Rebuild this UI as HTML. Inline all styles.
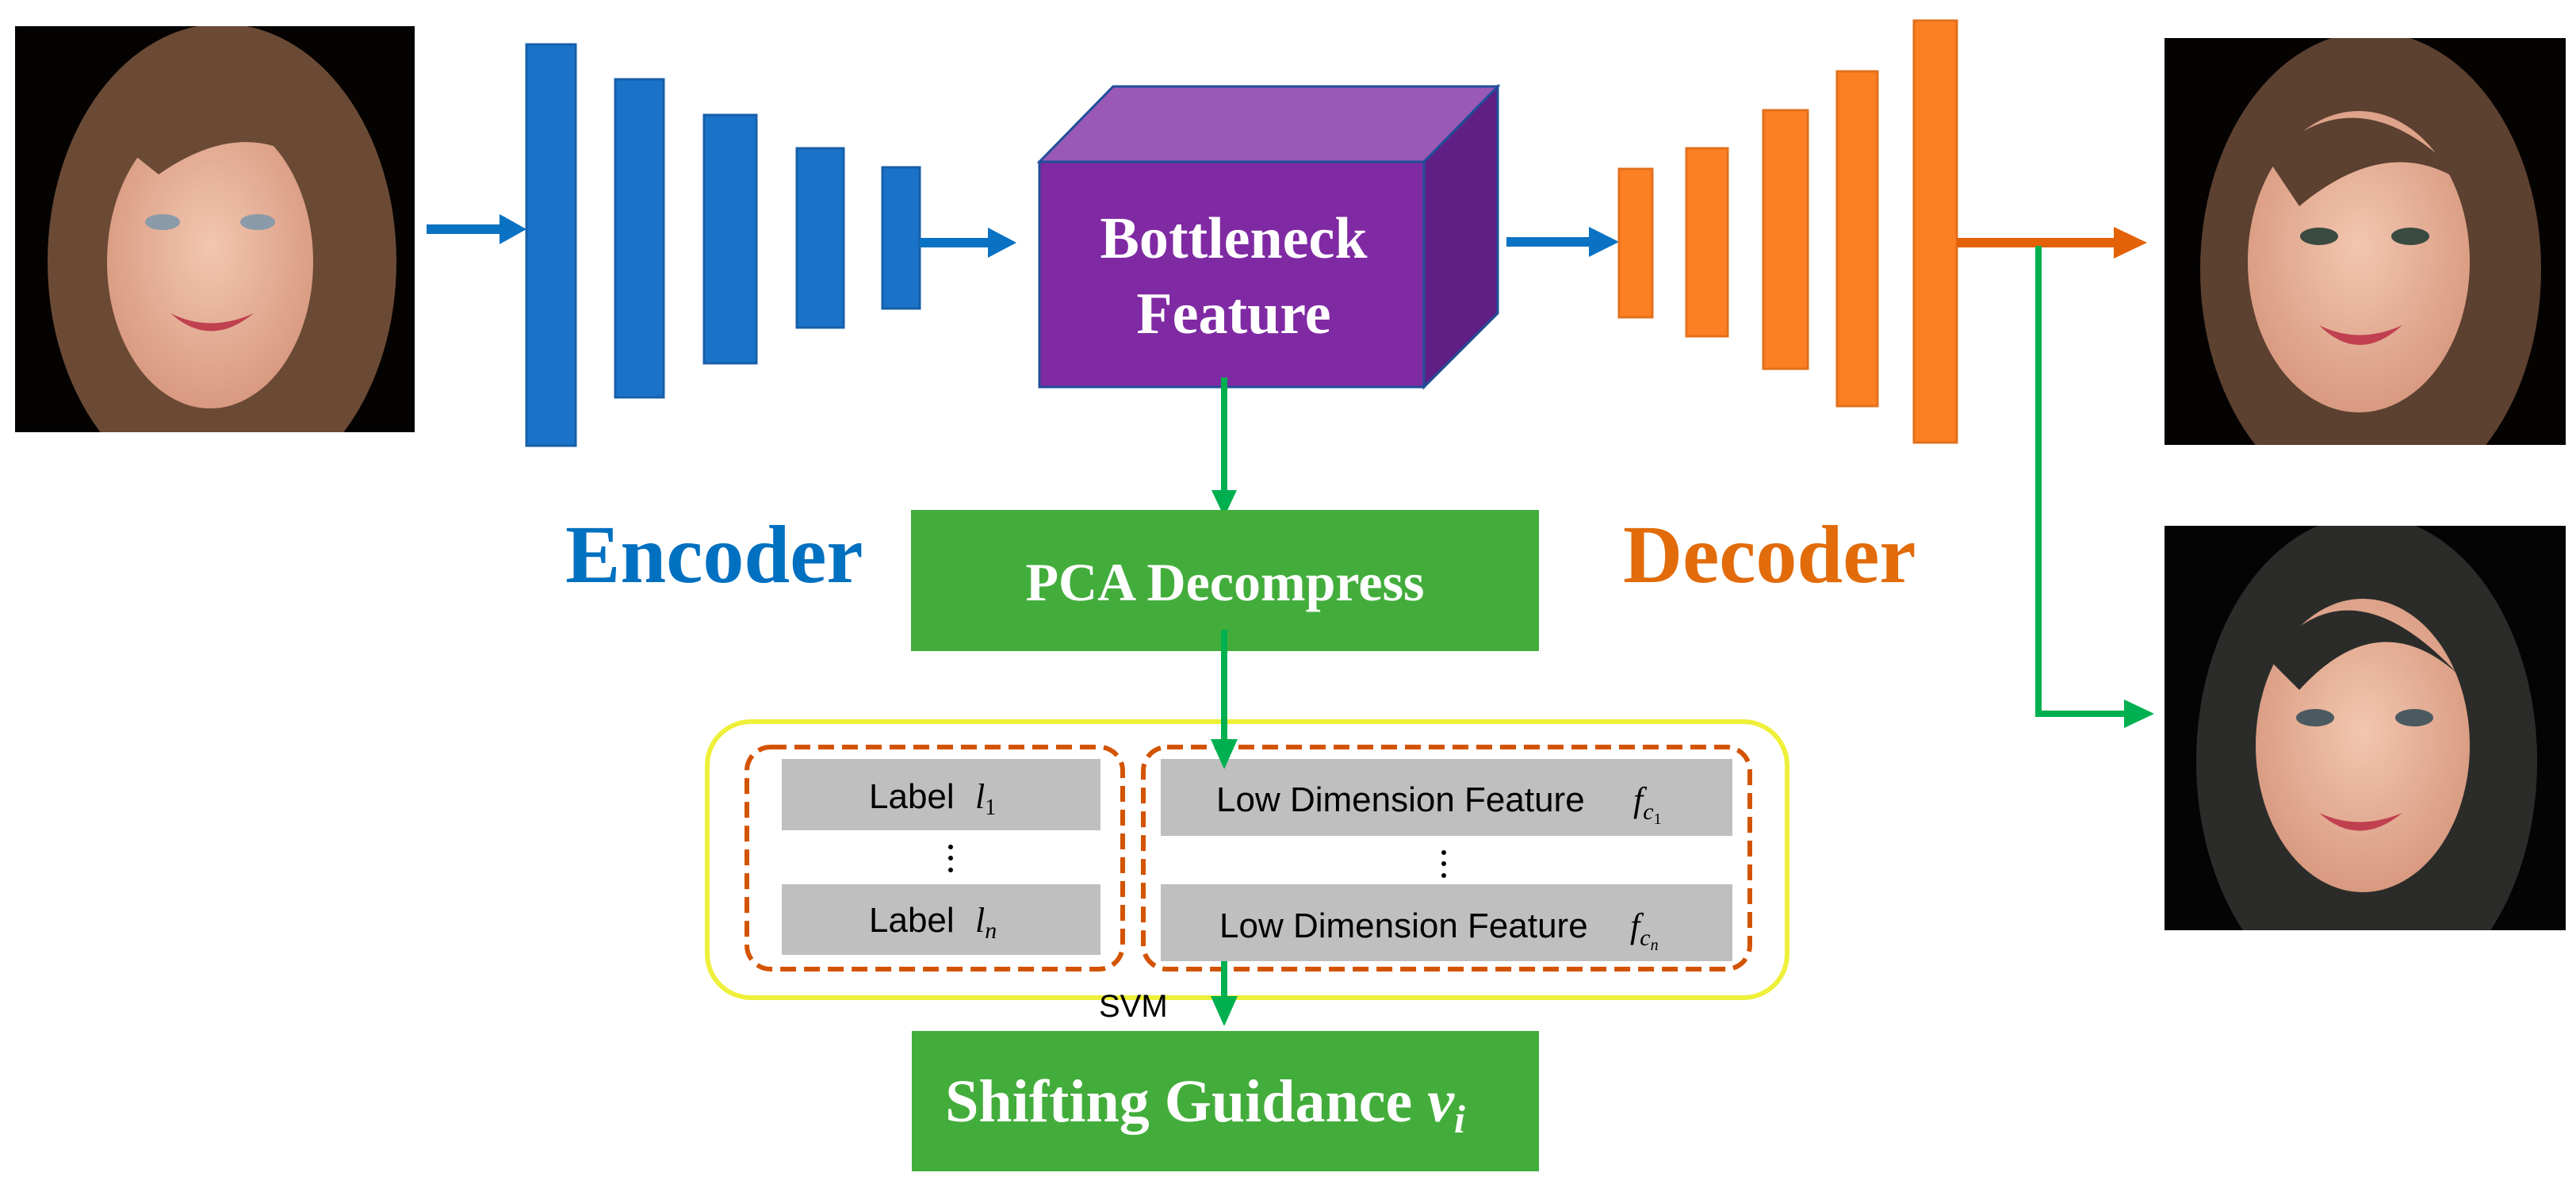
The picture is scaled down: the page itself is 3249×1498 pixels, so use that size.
<!DOCTYPE html>
<html><head><meta charset="utf-8"><style>
html,body{margin:0;padding:0;background:#fff;}
svg{display:block;}
</style></head><body>
<svg width="3249" height="1498" viewBox="0 0 3249 1498" xmlns="http://www.w3.org/2000/svg">
<defs>
<radialGradient id="skin" cx="50%" cy="45%" r="55%"><stop offset="0" stop-color="#f3c6b0"/><stop offset="1" stop-color="#d89a80"/></radialGradient>
<clipPath id="c1"><rect x="19" y="33" width="504" height="512"/></clipPath>
<clipPath id="c2"><rect x="2730" y="48" width="506" height="513"/></clipPath>
<clipPath id="c3"><rect x="2730" y="663" width="506" height="510"/></clipPath>
</defs>
<rect width="3249" height="1498" fill="#fff"/>

<!-- Photo 1 -->
<g clip-path="url(#c1)">
<rect x="19" y="33" width="504" height="512" fill="#050302"/>
<ellipse cx="280" cy="330" rx="220" ry="300" fill="#6b4a35"/>
<ellipse cx="265" cy="330" rx="130" ry="185" fill="url(#skin)"/>
<path d="M150 180 Q260 90 380 200 Q300 150 200 220 Z" fill="#6b4a35"/>
<ellipse cx="205" cy="280" rx="22" ry="10" fill="#8a9aa8"/>
<ellipse cx="325" cy="280" rx="22" ry="10" fill="#8a9aa8"/>
<path d="M215 395 Q265 440 320 395 Q265 420 215 395 Z" fill="#c04050"/>
</g>

<!-- Encoder bars -->
<g fill="#1a73c8" stroke="#175fa8" stroke-width="3">
<rect x="664" y="56" width="62" height="506"/>
<rect x="776" y="100" width="61" height="401"/>
<rect x="888" y="145" width="66" height="313"/>
<rect x="1005" y="187" width="59" height="226"/>
<rect x="1113" y="211" width="47" height="178"/>
</g>

<!-- blue arrows -->
<g fill="#0a72c2">
<rect x="538" y="283" width="100" height="12"/>
<polygon points="630,270 664,289 630,308"/>
<rect x="1160" y="300" width="92" height="12"/>
<polygon points="1246,287 1282,306 1246,325"/>
<rect x="1900" y="299" width="110" height="12"/>
<polygon points="2004,286 2042,305 2004,324"/>
</g>

<!-- Cube -->
<g stroke="#1f4e99" stroke-width="3">
<polygon points="1311,204 1404,109 1889,109 1796,204" fill="#9b59b6"/>
<polygon points="1796,204 1889,109 1889,395 1796,488" fill="#5f1f84"/>
<rect x="1311" y="204" width="485" height="284" fill="#7f2aa3"/>
</g>
<g font-family="'Liberation Serif',serif" font-weight="bold" font-size="74" fill="#fff" text-anchor="middle">
<text x="1556" y="325">Bottleneck</text>
<text x="1556" y="420">Feature</text>
</g>

<!-- Decoder bars -->
<g fill="#fd7f23" stroke="#e2701c" stroke-width="3">
<rect x="2042" y="213" width="42" height="187"/>
<rect x="2127" y="187" width="52" height="237"/>
<rect x="2224" y="139" width="56" height="326"/>
<rect x="2317" y="90" width="51" height="422"/>
<rect x="2414" y="26" width="54" height="532"/>
</g>

<!-- Orange arrow -->
<g fill="#e36207">
<rect x="2468" y="300" width="205" height="12"/>
<polygon points="2666,286 2708,306 2666,326"/>
</g>

<!-- Green connector to photo 3 -->
<g fill="#00b050">
<rect x="2567" y="310" width="8" height="594"/>
<rect x="2567" y="896" width="120" height="8"/>
<polygon points="2679,882 2717,900 2679,918"/>
</g>

<!-- Photo 2 -->
<g clip-path="url(#c2)">
<rect x="2730" y="48" width="506" height="513" fill="#050302"/>
<ellipse cx="2990" cy="340" rx="215" ry="300" fill="#5c4030"/>
<ellipse cx="2975" cy="330" rx="140" ry="190" fill="url(#skin)"/>
<path d="M2860 200 Q2980 80 3120 240 Q3020 160 2900 260 Z" fill="#5c4030"/>
<ellipse cx="2925" cy="298" rx="24" ry="11" fill="#3a4a40"/>
<ellipse cx="3040" cy="298" rx="24" ry="11" fill="#3a4a40"/>
<path d="M2925 410 Q2975 460 3030 410 Q2975 435 2925 410 Z" fill="#c04050"/>
</g>

<!-- Photo 3 -->
<g clip-path="url(#c3)">
<rect x="2730" y="663" width="506" height="510" fill="#040404"/>
<ellipse cx="2985" cy="960" rx="215" ry="310" fill="#2b2c2a"/>
<ellipse cx="2980" cy="940" rx="135" ry="185" fill="url(#skin)"/>
<path d="M2860 830 Q2960 700 3100 850 Q3000 760 2900 870 Z" fill="#2b2c2a"/>
<ellipse cx="2920" cy="905" rx="24" ry="11" fill="#4a5a60"/>
<ellipse cx="3045" cy="905" rx="24" ry="11" fill="#4a5a60"/>
<path d="M2925 1025 Q2975 1070 3030 1025 Q2975 1048 2925 1025 Z" fill="#c04050"/>
</g>

<!-- Encoder / Decoder labels -->
<text x="713" y="734" font-family="'Liberation Serif',serif" font-weight="bold" font-size="104" fill="#0070c0">Encoder</text>
<text x="2047" y="734" font-family="'Liberation Serif',serif" font-weight="bold" font-size="104" fill="#e26b0a">Decoder</text>

<!-- green arrow bottleneck -> PCA -->
<g fill="#00b050">
<rect x="1540" y="476" width="8" height="150"/>
<polygon points="1528,618 1560,618 1544,652"/>
</g>

<!-- PCA box -->
<rect x="1149" y="643" width="792" height="178" fill="#43ad3c"/>
<text x="1545" y="757" font-family="'Liberation Serif',serif" font-weight="bold" font-size="68" fill="#fff" text-anchor="middle">PCA Decompress</text>

<!-- yellow container -->
<rect x="892" y="910" width="1362" height="348" rx="55" fill="#fff" stroke="#eef03a" stroke-width="6"/>
<!-- dashed groups -->
<rect x="942" y="942" width="474" height="280" rx="30" fill="none" stroke="#d35400" stroke-width="6" stroke-dasharray="20,10"/>
<rect x="1442" y="942" width="765" height="280" rx="30" fill="none" stroke="#d35400" stroke-width="6" stroke-dasharray="20,10"/>

<g fill="#bfbfbf">
<rect x="986" y="957" width="402" height="90"/>
<rect x="986" y="1115" width="402" height="89"/>
<rect x="1464" y="957" width="721" height="97"/>
<rect x="1464" y="1115" width="721" height="97"/>
</g>
<g font-family="'Liberation Sans',sans-serif" font-size="44" fill="#000">
<text x="1096" y="1019">Label</text>
<text x="1230" y="1019" font-family="'Liberation Serif',serif" font-style="italic">l<tspan font-size="28" dy="8" font-style="normal">1</tspan></text>
<text x="1096" y="1175">Label</text>
<text x="1230" y="1175" font-family="'Liberation Serif',serif" font-style="italic">l<tspan font-size="30" dy="8">n</tspan></text>
<text x="1534" y="1023">Low Dimension Feature</text>
<text x="2060" y="1023" font-family="'Liberation Serif',serif" font-style="italic">f<tspan font-size="30" dy="10">c</tspan><tspan font-size="20" dy="6" font-style="normal">1</tspan></text>
<text x="1538" y="1182">Low Dimension Feature</text>
<text x="2056" y="1182" font-family="'Liberation Serif',serif" font-style="italic">f<tspan font-size="30" dy="10">c</tspan><tspan font-size="20" dy="6">n</tspan></text>
</g>
<g fill="#000">
<circle cx="1199" cy="1068" r="3"/><circle cx="1199" cy="1082" r="3"/><circle cx="1199" cy="1097" r="3"/>
<circle cx="1821" cy="1075" r="3"/><circle cx="1821" cy="1089" r="3"/><circle cx="1821" cy="1104" r="3"/>
</g>

<!-- green arrow PCA -> features -->
<g fill="#00b050">
<rect x="1540" y="794" width="8" height="150"/>
<polygon points="1527,932 1561,932 1544,970"/>
<rect x="1540" y="1212" width="8" height="52"/>
<polygon points="1527,1256 1561,1256 1544,1294"/>
</g>
<text x="1386" y="1282" font-family="'Liberation Sans',sans-serif" font-size="40" fill="#000">SVM</text>

<!-- Shifting box -->
<rect x="1150" y="1300" width="791" height="177" fill="#43ad3c"/>
<text x="1520" y="1414" font-family="'Liberation Serif',serif" font-weight="bold" font-size="76" fill="#fff" text-anchor="middle">Shifting Guidance <tspan font-style="italic">v</tspan><tspan font-style="italic" font-size="50" dy="14">i</tspan></text>
</svg>
</body></html>
